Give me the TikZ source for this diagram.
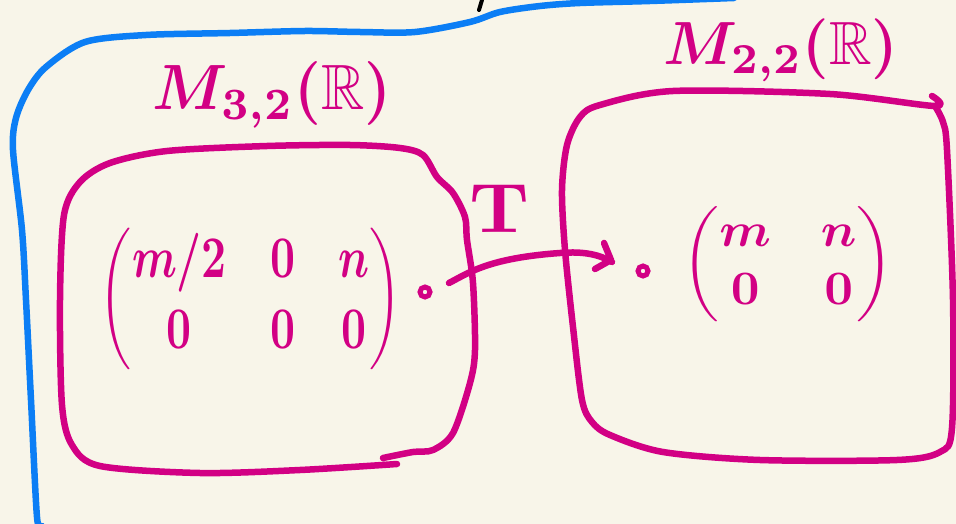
\documentclass[tikz,border=0pt]{standalone}
\usepackage{amsmath,amssymb}
\usetikzlibrary{calc}
\definecolor{bg}{RGB}{248,245,233}
\definecolor{mag}{RGB}{210,0,132}
\definecolor{blu}{RGB}{12,126,245}
\begin{document}
\begin{tikzpicture}[x=1pt,y=-1pt,
  pen/.style={draw=mag,line width=6.5pt,line cap=round,line join=round},
  bpen/.style={draw=blu,line width=6.5pt,line cap=round,line join=round},
  lbl/.style={text=mag,inner sep=0pt,font=\boldmath},
  dotmark/.style={circle,draw=mag,line width=5pt,minimum size=10pt,inner sep=0pt}]
\fill[bg] (0,0) rectangle (956,524);
\useasboundingbox (0,0) rectangle (956,524);
% small black tick at top
\draw[black,line width=4pt,line cap=round] (482,0) -- (479,10);
% blue outline
\draw[bpen] plot[smooth,tension=0.5] coordinates {(42,526) (37,517) (31,400) (26,300) (22,230) (13,150) (16,118) (28,90) (46,67) (85,42) (146,35) (230,33) (305,31) (360,32) (415,32) (470,22) (500,12) (540,6) (580,3) (650,1) (734,-2)};
% left box
\draw[pen] plot[smooth,tension=0.5] coordinates {(397,464) (300,470) (200,473) (100,466) (72,445) (62,405) (60,300) (64,215) (80,182) (110,163) (167,151) (267,146) (350,145) (400,148) (423,155) (437,177) (453,193) (465,217) (467,240) (473,283) (475,350) (470,383) (453,433) (433,450) (413,452) (383,458)};
% right box
\draw[pen] plot[smooth,tension=0.5] coordinates {(932,96) (935,106) (830,94) (673,91) (600,105) (580,117) (567,145) (562,190) (565,250) (573,327) (582,400) (592,422) (610,435) (663,452) (760,460) (897,460) (940,452) (952,428) (953,300) (947,150) (943,122) (935,106)};
% labels
\node[lbl,xscale=6.0,yscale=6.4] (l32) at (272,95) {$M_{3,2}(\mathbb{R})$};
\node[lbl,xscale=5.9,yscale=6.1] (l22) at (781,50) {$M_{2,2}(\mathbb{R})$};
\node[lbl,xscale=7.5,yscale=7.0] (t) at (499,208) {$\mathrm{T}$};
% matrices
\node[lbl,xscale=4.35,yscale=5.9] (a) at (251,299) {$\begin{pmatrix} m/2 & 0 & n\\ 0 & 0 & 0\end{pmatrix}$};
\node[lbl,xscale=5.0,yscale=4.8] (b) at (788,264) {$\begin{pmatrix} m & n\\ 0 & 0\end{pmatrix}$};
% dots
\node[dotmark] (d1) at (425,292) {};
\node[dotmark] (d2) at (643,271) {};
% arrow
\coordinate (s) at (449,283);
\coordinate (e) at (612,262);
\draw[pen] (s) .. controls (470,272) and (490,258) .. (560,253) .. controls (585,251) and (600,255) .. (e);
\draw[pen] ($(e)+(-8,-19)$) -- ($(e)+(-1,-2)$) -- ($(e)+(-17,7)$);
\end{tikzpicture}
\end{document}
